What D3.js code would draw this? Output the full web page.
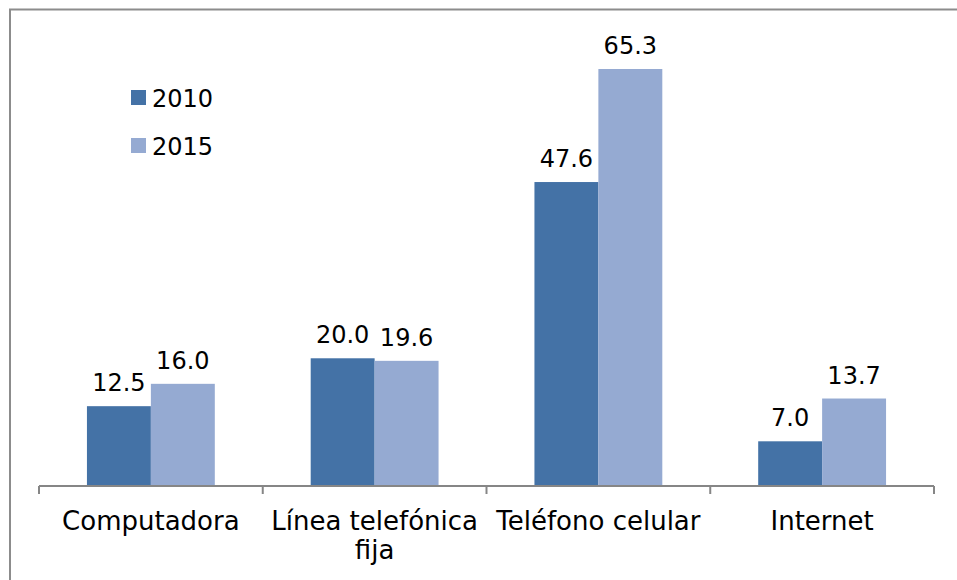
<!DOCTYPE html>
<html>
<head>
<meta charset="utf-8">
<script src="https://cdn.jsdelivr.net/npm/d3@7"></script>
<style>
  body { margin: 0; background: #fff; }
  svg { display: block; }
</style>
</head>
<body>
<div id="chart"></div>
<script>
// chart data
var categories = ["Computadora", "Línea telefónica|fija", "Teléfono celular", "Internet"];
var seriesNames = ["2010", "2015"];
var values2010 = [12.5, 20.0, 47.6, 7.0];
var values2015 = [16.0, 19.6, 65.3, 13.7];
var colors = ["#4472a6", "#95aad2"];

var svgWidth = 957;
var svgHeight = 580;

var chartMargin = { top: 39, right: 23, bottom: 94, left: 39 };
var chartWidth = svgWidth - chartMargin.left - chartMargin.right;
var chartHeight = svgHeight - chartMargin.top - chartMargin.bottom;

var svg = d3.select("#chart")
  .append("svg")
  .attr("width", svgWidth)
  .attr("height", svgHeight);

// outer frame (right and bottom edges fall outside the picture)
svg.append("rect")
  .attr("x", 10)
  .attr("y", 9.5)
  .attr("width", 1000)
  .attr("height", 1000)
  .attr("fill", "none")
  .attr("stroke", "#8c8c8c")
  .attr("stroke-width", 2);

var chartGroup = svg.append("g")
  .attr("transform", `translate(${chartMargin.left}, ${chartMargin.top})`);

var data = categories.map(function(c, i) {
  return { cat: c, vals: [values2010[i], values2015[i]] };
});

var x0 = d3.scaleBand()
  .domain(categories)
  .range([0, chartWidth]);

var x1 = d3.scaleBand()
  .domain(seriesNames)
  .range([0, x0.bandwidth()])
  .paddingOuter(0.75)
  .paddingInner(0);

var y = d3.scaleLinear()
  .domain([0, 70])
  .range([chartHeight, 0]);

var groups = chartGroup.selectAll(".group")
  .data(data)
  .enter()
  .append("g")
  .attr("transform", d => `translate(${x0(d.cat)}, 0)`);

groups.selectAll("rect")
  .data(d => d.vals.map((v, i) => ({ key: seriesNames[i], v: v, i: i })))
  .enter()
  .append("rect")
  .attr("x", d => x1(d.key))
  .attr("y", d => y(d.v))
  .attr("width", x1.bandwidth())
  .attr("height", d => chartHeight - y(d.v))
  .attr("fill", d => colors[d.i]);

groups.selectAll(".val")
  .data(d => d.vals.map((v, i) => ({ key: seriesNames[i], v: v })))
  .enter()
  .append("text")
  .attr("class", "val")
  .attr("x", d => x1(d.key) + x1.bandwidth() / 2)
  .attr("y", d => y(d.v) - 15)
  .attr("text-anchor", "middle")
  .style("font-family", "DejaVu Sans")
  .style("font-size", "24px")
  .style("fill", "#000")
  .text(d => d.v.toFixed(1));

// x axis: line with ticks at band edges
var axis = chartGroup.append("g")
  .attr("transform", `translate(0, ${chartHeight})`);

axis.append("line")
  .attr("x1", 0)
  .attr("x2", chartWidth)
  .attr("stroke", "#868686")
  .attr("stroke-width", 2);

var edges = categories.map(c => x0(c)).concat([chartWidth]);
axis.selectAll(".tick")
  .data(edges)
  .enter()
  .append("line")
  .attr("x1", d => d)
  .attr("x2", d => d)
  .attr("y1", 0)
  .attr("y2", 8)
  .attr("stroke", "#868686")
  .attr("stroke-width", 2);

axis.selectAll(".catLabel")
  .data(categories)
  .enter()
  .append("text")
  .attr("text-anchor", "middle")
  .attr("x", d => x0(d) + x0.bandwidth() / 2)
  .attr("y", 44)
  .style("font-family", "DejaVu Sans")
  .style("font-size", "26px")
  .style("fill", "#000")
  .each(function(d) {
    var lines = d.split("|");
    var t = d3.select(this);
    lines.forEach(function(l, i) {
      t.append("tspan")
        .attr("x", x0(d) + x0.bandwidth() / 2)
        .attr("dy", i === 0 ? 0 : 29)
        .text(l);
    });
  });

// legend
var legend = svg.append("g")
  .attr("transform", "translate(131, 90)");

seriesNames.forEach(function(s, i) {
  legend.append("rect")
    .attr("x", 0)
    .attr("y", i * 48)
    .attr("width", 15)
    .attr("height", 15)
    .attr("fill", colors[i]);
  legend.append("text")
    .attr("x", 21)
    .attr("y", i * 48 + 17)
    .style("font-family", "DejaVu Sans")
    .style("font-size", "24px")
    .style("fill", "#000")
    .text(s);
});
</script>
</body>
</html>
